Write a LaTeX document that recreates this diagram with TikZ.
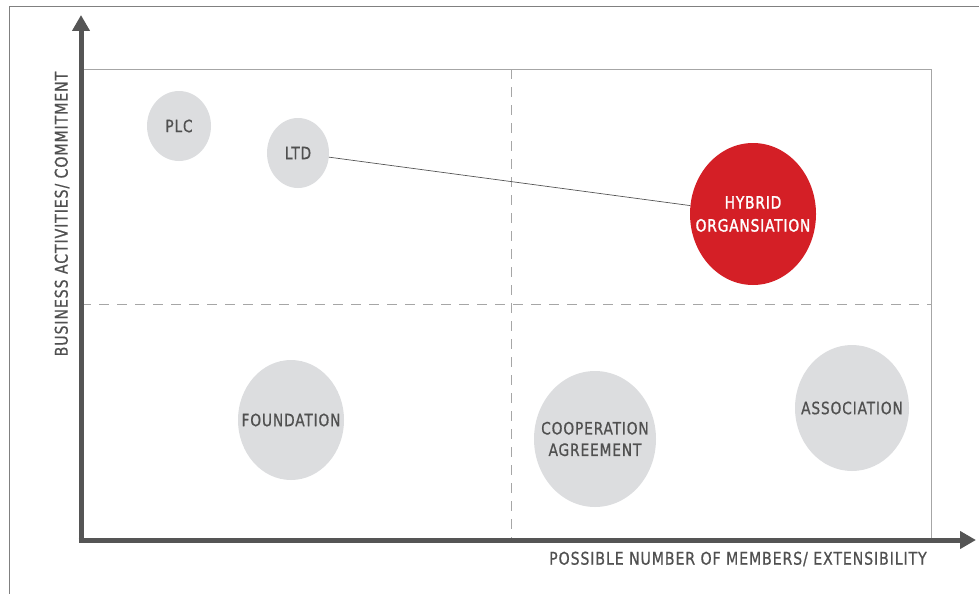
\documentclass[tikz,border=0pt]{standalone}
\usepackage{fontspec}
\setmainfont{DejaVu Sans Condensed}[LetterSpace=5, FakeStretch=0.9, FakeBold=0.7]
\newfontfamily\hybridfont{DejaVu Sans Condensed}[LetterSpace=5, FakeStretch=0.9, FakeBold=1.5]
\usetikzlibrary{arrows.meta, shapes.geometric}
\definecolor{bubblegray}{HTML}{DCDDDF}
\definecolor{textgray}{HTML}{505050}
\definecolor{axisgray}{HTML}{555555}
\definecolor{hybridred}{HTML}{D41F26}
\tikzset{
	bubble/.style = { ellipse, fill = bubblegray, inner sep = 0pt },
	bubbletext/.style = { text = textgray, align = center, font = \fontsize{17}{21.5}\selectfont },
	axislabel/.style = { text = textgray, font = \fontsize{17.5}{20}\selectfont },
	quadline/.style = { draw = gray!70, line width = 0.8pt }
}
\begin{document}
\begin{tikzpicture}[x=1pt, y=-1pt]
		\useasboundingbox ( 0, 0 ) rectangle ( 979, 594 );
		% рамка
		\draw [ gray, line width = 1pt ] ( 979, 7 ) -- ( 9, 7 ) -- ( 9, 594 );

		% поле и квадранты
		\draw [ quadline ] ( 81, 69 ) rectangle ( 931, 540 );
		\draw [ quadline, dash pattern = on 10pt off 8pt ] ( 511, 69 ) -- ( 511, 540 );
		\draw [ quadline, dash pattern = on 10pt off 8pt ] ( 81, 304 ) -- ( 931, 304 );

		% оси
		\draw [ axisgray, line width = 5pt, -{Triangle[length = 16pt, width = 17pt]} ] ( 81, 542.5 ) -- ( 81, 15 );
		\draw [ axisgray, line width = 5pt, -{Triangle[length = 16pt, width = 17pt]} ] ( 78.5, 540 ) -- ( 976, 540 );
		\node [ axislabel, rotate = 90 ] (ylabel) at ( 62, 214 ) {BUSINESS ACTIVITIES/ COMMITMENT};
		\node [ axislabel ] (xlabel) at ( 738, 559 ) {POSSIBLE NUMBER OF MEMBERS/ EXTENSIBILITY};

		% формы организаций
		\node [ bubble, minimum width = 64pt, minimum height = 70pt ] (plc) at ( 179, 126 ) {};
		\node [ bubbletext ] at (plc) {PLC};
		\node [ bubble, minimum width = 62pt, minimum height = 70pt ] (ltd) at ( 298, 153 ) {};
		\node [ bubbletext ] at (ltd) {LTD};
		\node [ bubble, fill = hybridred, minimum width = 126pt, minimum height = 142pt ] (hybrid) at ( 753, 214 ) {};
		\node [ bubbletext, text = white, font = \fontsize{17}{23}\hybridfont ] at (hybrid) {HYBRID\\ORGANSIATION};
		\node [ bubble, minimum width = 106pt, minimum height = 120pt ] (foundation) at ( 291, 420 ) {};
		\node [ bubbletext ] at (foundation) {FOUNDATION};
		\node [ bubble, minimum width = 122pt, minimum height = 136pt ] (coop) at ( 595, 439 ) {};
		\node [ bubbletext ] at (coop) {COOPERATION\\AGREEMENT};
		\node [ bubble, minimum width = 114pt, minimum height = 126pt ] (assoc) at ( 852, 408 ) {};
		\node [ bubbletext ] at (assoc) {ASSOCIATION};

		% связь
		\draw [ axisgray, line width = 0.7pt ] (ltd) -- (hybrid);
	\end{tikzpicture}
\end{document}
